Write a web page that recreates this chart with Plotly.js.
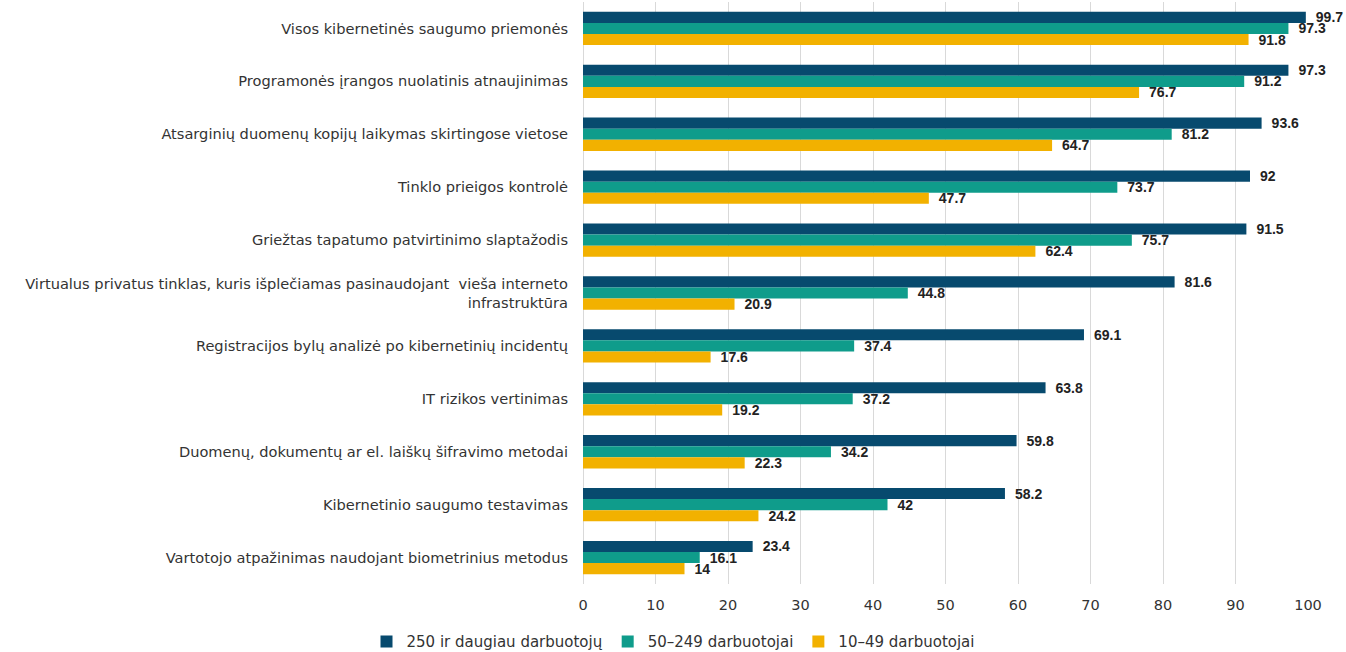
<!DOCTYPE html>
<html>
<head>
<meta charset="utf-8">
<script src="https://cdn.plot.ly/plotly-3.0.1.min.js"></script>
<style>html,body{margin:0;padding:0;background:#fff;}#chart{width:1346px;height:652px;}</style>
</head>
<body>
<div id="chart"></div>
<script>
const categories = [
  "Visos kibernetinės saugumo priemonės",
  "Programonės įrangos nuolatinis atnaujinimas",
  "Atsarginių duomenų kopijų laikymas skirtingose vietose",
  "Tinklo prieigos kontrolė",
  "Griežtas tapatumo patvirtinimo slaptažodis",
  "Virtualus privatus tinklas, kuris išplečiamas pasinaudojant  vieša interneto<br>infrastruktūra",
  "Registracijos bylų analizė po kibernetinių incidentų",
  "IT rizikos vertinimas",
  "Duomenų, dokumentų ar el. laiškų šifravimo metodai",
  "Kibernetinio saugumo testavimas",
  "Vartotojo atpažinimas naudojant biometrinius metodus"
];
const seriesNames = ["250 ir daugiau darbuotojų", "50–249 darbuotojai", "10–49 darbuotojai"];
const large = [99.7, 97.3, 93.6, 92, 91.5, 81.6, 69.1, 63.8, 59.8, 58.2, 23.4];
const medium = [97.3, 91.2, 81.2, 73.7, 75.7, 44.8, 37.4, 37.2, 34.2, 42, 16.1];
const small = [91.8, 76.7, 64.7, 47.7, 62.4, 20.9, 17.6, 19.2, 22.3, 24.2, 14];
const xTicks = [0, 10, 20, 30, 40, 50, 60, 70, 80, 90, 100];
const colors = ["#074A6E", "#0F9C8B", "#F2B100"];

const allValues = [large, medium, small];
const traces = allValues.map((vals, i) => ({
  type: "bar",
  orientation: "h",
  name: seriesNames[i],
  y: categories,
  x: vals,
  marker: {color: colors[i]},
  text: vals.map(v => "\u2002" + String(v)),
  textposition: "outside",
  constraintext: "none",
  cliponaxis: false,
  textfont: {family: "Liberation Sans Narrow, Arial Narrow, sans-serif", size: 14, color: "#222", weight: "bold"},
  hoverinfo: "x+name"
}));

const layout = {
  width: 1346,
  height: 652,
  margin: {l: 583, r: 38, t: 2, b: 68},
  barmode: "group",
  bargap: 0.37,
  bargroupgap: 0,
  paper_bgcolor: "#fff",
  plot_bgcolor: "#fff",
  font: {family: "DejaVu Sans, sans-serif", color: "#333"},
  xaxis: {
    range: [0, 100],
    tickvals: xTicks,
    showgrid: true,
    gridcolor: "#d9d9d9",
    gridwidth: 1,
    zeroline: true,
    zerolinecolor: "#d9d9d9",
    showline: false,
    tickfont: {size: 14.5, color: "#333"},
    ticks: "",
    ticklabelstandoff: 10,
    fixedrange: true
  },
  yaxis: {
    autorange: "reversed",
    type: "category",
    showgrid: false,
    ticks: "",
    ticklabelstandoff: 14,
    tickfont: {size: 14.6, color: "#333"},
    fixedrange: true
  },
  legend: {
    orientation: "h",
    x: 0.5,
    xanchor: "center",
    xref: "container",
    y: 0.041,
    yref: "container",
    yanchor: "top",
    font: {size: 15, color: "#333"},
    itemwidth: 30,
    traceorder: "normal"
  },
  showlegend: true
};

Plotly.newPlot("chart", traces, layout, {displayModeBar: false, staticPlot: true});
</script>
</body>
</html>
